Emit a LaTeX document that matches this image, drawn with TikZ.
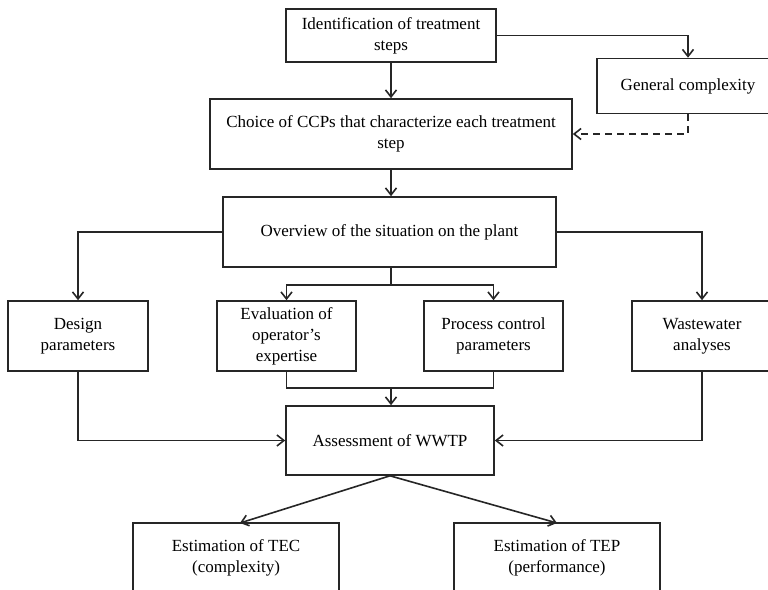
\documentclass[tikz,border=0pt]{standalone}
\usepackage{fontspec}
\setmainfont{Liberation Serif}
\usetikzlibrary{arrows.meta}
\begin{document}
\begin{tikzpicture}[x=1pt,y=-1pt,
  every node/.style={font=\fontsize{17}{21}\selectfont},
  box/.style={draw=black!85,line width=1.6pt,rectangle,inner sep=0pt,align=center,fill=white},
  conn/.style={draw=black!85,line width=1.6pt},
  arr/.style={conn,-{Straight Barb[length=7pt,width=11pt,line width=1.6pt]}}]
\useasboundingbox (0,0) rectangle (768,589);
\clip (0,0) rectangle (768,589);
\fill[white] (0,0) rectangle (768,589);
% nodes
\node[box,minimum width=210pt,minimum height=53pt] (id) at (391,35.5) {Identification of treatment\\steps};
\node[box,minimum width=182pt,minimum height=55pt] (gc) at (688,86) {General complexity};
\node[box,minimum width=362pt,minimum height=70pt] (ch) at (391,134) {Choice of CCPs that characterize each treatment\\step};
\node[box,minimum width=333pt,minimum height=70pt] (ov) at (389.5,232) {Overview of the situation on the plant};
\node[box,minimum width=140pt,minimum height=70pt] (de) at (78,336) {Design\\parameters};
\node[box,minimum width=139pt,minimum height=70pt] (ev) at (286.5,336) {Evaluation of\\operator’s\\expertise};
\node[box,minimum width=139pt,minimum height=70pt] (pc) at (493.5,336) {Process control\\parameters};
\node[box,minimum width=140pt,minimum height=70pt] (ww) at (702,336) {Wastewater\\analyses};
\node[box,minimum width=208pt,minimum height=69pt] (as) at (390,440.5) {Assessment of WWTP};
\node[box,minimum width=206pt,minimum height=70pt] (tec) at (236,558) {Estimation of TEC\\(complexity)};
\node[box,minimum width=206pt,minimum height=70pt] (tep) at (557,558) {Estimation of TEP\\(performance)};
% coordinates
\coordinate (sp) at (391,285);
\coordinate (jn) at (391,388);
% connectors
\draw[arr] (id.south) -- (ch.north);
\draw[arr] (id.east) -| (gc.north);
\draw[arr,dashed,dash pattern=on 7pt off 5pt] (gc.south) |- (ch.east);
\draw[arr] (ch.south) -- (ch.south |- ov.north);
\draw[arr] (ov.west) -| (de.north);
\draw[arr] (ov.east) -| (ww.north);
\draw[conn] (ov.south -| sp) -- (sp);
\draw[arr] (sp) -| (ev.north);
\draw[arr] (sp) -| (pc.north);
\draw[conn] (ev.south) |- (jn) -| (pc.south);
\draw[arr] (jn) -- (jn |- as.north);
\draw[arr] (de.south) |- (as.west);
\draw[arr] (ww.south) |- (as.east);
\draw[arr] (as.south) -- (240,523);
\draw[arr] (as.south) -- (557,523);
\end{tikzpicture}
\end{document}
